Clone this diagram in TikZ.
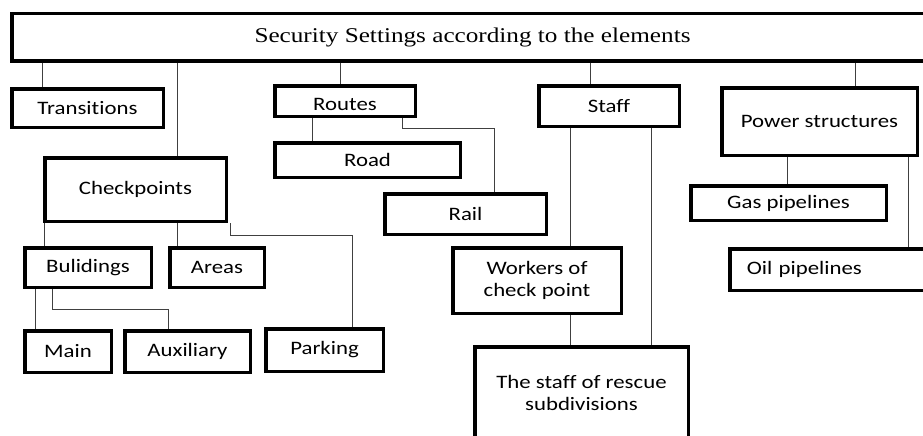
\documentclass[tikz,border=0pt]{standalone}
\usepackage{fontspec}
\newfontfamily\bfont[FakeStretch=1.2,Ligatures=NoCommon]{Carlito}
\newfontfamily\tfont[FakeStretch=1.2]{Liberation Serif}
\begin{document}
\begin{tikzpicture}[x=1pt,y=-1pt,
  bx/.style={draw, line width=3.5pt, inner sep=0pt, align=center,
    font=\bfont\fontsize{19}{22}\selectfont},
  ln/.style={draw=black!75, line width=1pt}]
\useasboundingbox (0,0) rectangle (923,436);
\clip (0,0) rectangle (923,436);
% boxes
\node[bx, minimum width=921pt, minimum height=47.5pt, font=\tfont\fontsize{21}{25}\selectfont] (top) at (472.5,37.5) {Security Settings according to the elements};
\node[bx, minimum width=151.5pt, minimum height=38.5pt] (trans) at (87.5,108) {Transitions};
\node[bx, minimum width=140.5pt, minimum height=30.5pt, text height=18pt, text depth=0pt] (routes) at (345,101) {Routes};
\node[bx, minimum width=140.5pt, minimum height=40.5pt] (staff) at (609,106) {Staff};
\node[bx, minimum width=195.5pt, minimum height=67.5pt] (power) at (819.5,121.5) {Power structures};
\node[bx, minimum width=181.5pt, minimum height=63.5pt] (check) at (135.5,189.5) {Checkpoints};
\node[bx, minimum width=185.5pt, minimum height=34.5pt] (road) at (367.5,160) {Road};
\node[bx, minimum width=161.5pt, minimum height=40.5pt] (rail) at (465.5,214) {Rail};
\node[bx, minimum width=195.5pt, minimum height=34.5pt] (gas) at (788.5,203) {Gas pipelines};
\node[bx, minimum width=126.5pt, minimum height=39.5pt] (buil) at (88,267.5) {Bulidings};
\node[bx, minimum width=94.5pt, minimum height=39.5pt] (areas) at (217,267.5) {Areas};
\node[bx, minimum width=168.5pt, minimum height=65.5pt] (workers) at (537,280.5) {Workers of\\check point};
\node[bx, inner xsep=17pt, text width=169.5pt, align=left, minimum height=41.5pt] (oil) at (831.5,269.5) {Oil pipelines};
\node[bx, minimum width=86.5pt, minimum height=41.5pt] (main) at (68,351.5) {Main};
\node[bx, minimum width=125.5pt, minimum height=41.5pt] (aux) at (187.5,351.5) {Auxiliary};
\node[bx, minimum width=117.5pt, minimum height=42.5pt] (parking) at (324.5,350) {Parking};
\node[bx, minimum width=213.5pt, minimum height=91.5pt] (rescue) at (581.5,392.5) {The staff of rescue\\subdivisions};
% helper coordinates
\coordinate (rr) at (494,128);
\coordinate (cp) at (352,235);
\coordinate (ba) at (168,309);
% connectors
\path[ln] (top.south -| 42,0) -- (trans.north -| 42,0);
\path[ln] (top.south -| 177,0) -- (check.north -| 177,0);
\path[ln] (top.south -| 340,0) -- (routes.north -| 340,0);
\path[ln] (top.south -| 590,0) -- (staff.north -| 590,0);
\path[ln] (top.south -| 855,0) -- (power.north -| 855,0);
\path[ln] (routes.south -| 312,0) -- (road.north -| 312,0);
\path[ln] (routes.south -| 402,0) |- (rr) -- (rail.north -| rr);
\path[ln] (staff.south -| 570,0) -- (workers.north -| 570,0);
\path[ln] (staff.south -| 651,0) -- (rescue.north -| 651,0);
\path[ln] (workers.south -| 570,0) -- (rescue.north -| 570,0);
\path[ln] (power.south -| 787,0) -- (gas.north -| 787,0);
\path[ln] (power.south -| 908,0) -- (oil.north -| 908,0);
\path[ln] (check.south -| 44,0) -- (buil.north -| 44,0);
\path[ln] (check.south -| 177,0) -- (areas.north -| 177,0);
\path[ln] (check.south -| 230,0) |- (cp) -- (parking.north -| cp);
\path[ln] (buil.south -| 35,0) -- (main.north -| 35,0);
\path[ln] (buil.south -| 52,0) |- (ba) -- (aux.north -| ba);
\end{tikzpicture}
\end{document}
